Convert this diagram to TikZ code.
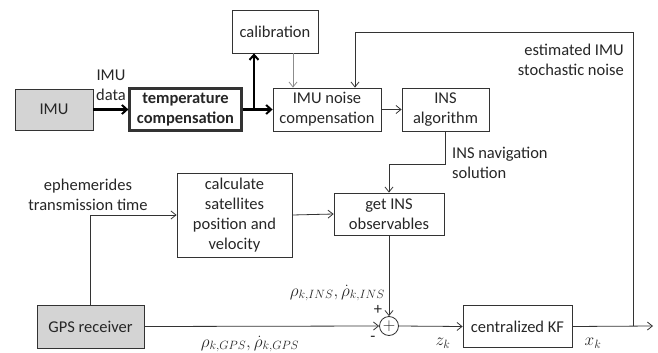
\documentclass[tikz,border=0pt]{standalone}
\usepackage{fontspec}
\setmainfont{Carlito}
\usetikzlibrary{arrows.meta}
\begin{document}
\begin{tikzpicture}[x=1pt,y=-1pt,
  font=\fontsize{16.5}{20}\selectfont, text=black!85,
  box/.style={draw=black!80, line width=0.8pt, align=center, inner sep=0pt},
  graybox/.style={box, fill=black!17},
  thickbox/.style={box, line width=2.2pt, font=\fontsize{16.5}{20}\selectfont\bfseries},
  conn/.style={draw=black!80, line width=0.8pt, -{Straight Barb[length=5pt,width=8pt]}},
  boldconn/.style={draw=black, line width=2.2pt, -{Straight Barb[length=5pt,width=9pt,line width=2pt]}},
  lbl/.style={align=center, inner sep=0pt},
  mathlbl/.style={inner sep=0pt, font=\fontsize{18}{20}\selectfont}]
\useasboundingbox (0,0) rectangle (658,353);

% blocks
\node[graybox, minimum width=78pt, minimum height=41pt] (imu) at (54,109.5) {IMU};
\node[thickbox, minimum width=112pt, minimum height=42pt] (temp) at (185.5,109.5) {temperature\\compensation};
\node[box, minimum width=86pt, minimum height=43pt] (calib) at (275,31.5) {calibration};
\node[box, minimum width=108pt, minimum height=43pt] (noise) at (327,109.5) {IMU noise\\compensation};
\node[box, minimum width=87pt, minimum height=43pt] (insalg) at (445.5,109.5) {INS\\algorithm};
\node[box, minimum width=115pt, minimum height=84pt] (calc) at (234.5,215) {calculate\\satellites\\position and\\velocity};
\node[box, minimum width=110pt, minimum height=42pt] (getins) at (389,214) {get INS\\observables};
\node[graybox, minimum width=107pt, minimum height=43pt] (gps) at (90.5,326.5) {GPS receiver};
\node[draw=black!80, line width=0.8pt, circle, minimum size=19pt, inner sep=0pt, font=\fontsize{18}{20}\selectfont] (sum) at (389,326) {$+$};
\node[box, minimum width=109pt, minimum height=42pt] (kf) at (517.5,326.5) {centralized KF};

% helper points
\coordinate (br) at (254,109.5);
\coordinate (out) at (653,326);
\coordinate (fb) at (633,326);

% IMU chain
\draw[boldconn] (imu.east) -- (temp.west);
\draw[boldconn] (temp.east) -- (noise.west);
\draw[boldconn] (br) -- (br |- calib.south);
\draw[conn, draw=black!45] ([xshift=18pt]calib.south) -- ([xshift=18pt]calib.south |- noise.north);
\draw[conn] (noise.east) -- (insalg.west);
\draw[conn] (insalg.south) -- (insalg.south |- 0,164) -| (getins.north);

% GPS chain
\draw[conn] (gps.north) |- (calc.west);
\draw[conn] (calc.east) -- (getins.west);
\draw[conn] (getins.south) -- (sum.north);
\draw[conn] (gps.east) -- (sum.west);
\draw[conn] (sum.east) -- (kf.west);
\draw[conn] (kf.east) -- (out);

% feedback of estimated noise
\draw[conn] (fb) -- (fb |- 0,32) -| ([xshift=28pt]noise.north);

% labels
\node[lbl] at (111,85) {IMU\\data};
\node[lbl, align=right, anchor=east] at (624,60) {estimated IMU\\stochastic noise};
\node[lbl, align=left, anchor=west] at (452,163) {INS navigation\\solution};
\node[lbl] at (88,195) {ephemerides\\transmission time};
\node[mathlbl, anchor=east] at (385,293) {$\rho_{k,INS},\dot{\rho}_{k,INS}$};
\node[lbl] at (378,310) {+};
\node[lbl] at (373,339) {-};
\node[mathlbl] at (250,344) {$\rho_{k,GPS},\dot{\rho}_{k,GPS}$};
\node[mathlbl] at (443,343) {$z_k$};
\node[mathlbl] at (593,343) {$x_k$};
\end{tikzpicture}
\end{document}
